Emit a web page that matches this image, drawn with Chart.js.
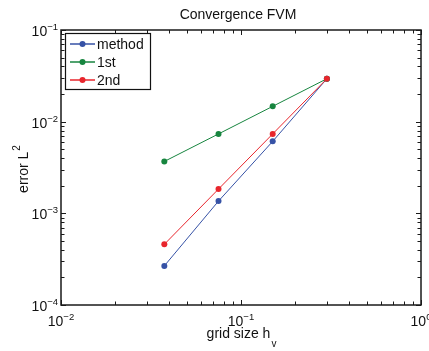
<!DOCTYPE html>
<html>
<head>
<meta charset="utf-8">
<script src="https://cdn.jsdelivr.net/npm/chart.js@4/dist/chart.umd.min.js"></script>
<style>
  body { margin: 0; background: #fff; }
  canvas { display: block; }
</style>
</head>
<body>
<canvas id="chart" width="429" height="351"></canvas>
<script>
// data
let gridSize = [0.0375, 0.075, 0.15, 0.3];
let errMethod = [0.000267, 0.00136, 0.0061, 0.0294];
let errFirst = [0.00368, 0.00735, 0.0147, 0.0294];
let errSecond = [0.000459, 0.00184, 0.00735, 0.0294];
let seriesNames = ["method", "1st", "2nd"];
let seriesColors = ["#3652a6", "#17853f", "#e8262d"];

// axis decades and their labels
let xTicks = [0.01, 0.1, 1];
let xTickExp = ["\u22122", "\u22121", "0"];
let yTicks = [0.0001, 0.001, 0.01, 0.1];
let yTickExp = ["\u22124", "\u22123", "\u22122", "\u22121"];

let chartTitle = "Convergence FVM";
let xTitle = "grid size h";
let xTitleSub = "v";
let yTitle = "error L";
let yTitleSup = "2";

const FONT = "'Liberation Sans', Arial, Helvetica, sans-serif";

function points(ys) {
    return gridSize.map((x, i) => ({ x: x, y: ys[i] }));
}

function drawPow(ctx, x, y, exp, align) {
    ctx.font = "14px " + FONT;
    let w10 = ctx.measureText("10").width;
    ctx.font = "9.5px " + FONT;
    let we = ctx.measureText(exp).width;
    let total = w10 + we;
    let start = align === "center" ? x - total / 2 : x - total;
    ctx.textAlign = "left";
    ctx.textBaseline = "alphabetic";
    ctx.font = "14px " + FONT;
    ctx.fillText("10", start, y);
    ctx.font = "9.5px " + FONT;
    ctx.fillText(exp, start + w10, y - 6);
}

const axesPlugin = {
    id: "matlabAxes",
    afterDraw(chart) {
        let ctx = chart.ctx;
        let a = chart.chartArea;
        let xs = chart.scales.x;
        let ys = chart.scales.y;
        ctx.save();
        ctx.fillStyle = "#111";
        ctx.strokeStyle = "#1a1a1a";

        // ticks inside the box
        ctx.lineWidth = 1;
        ctx.beginPath();
        for (let d = -2; d <= 0; d++) {
            for (let m = 1; m <= 9; m++) {
                let v = m * Math.pow(10, d);
                if (v < xs.min || v > xs.max) continue;
                let px = Math.round(xs.getPixelForValue(v)) + 0.5;
                let len = m === 1 ? 5 : 3.5;
                ctx.moveTo(px, a.bottom); ctx.lineTo(px, a.bottom - len);
                ctx.moveTo(px, a.top); ctx.lineTo(px, a.top + len);
            }
        }
        for (let d = -4; d <= -1; d++) {
            for (let m = 1; m <= 9; m++) {
                let v = m * Math.pow(10, d);
                if (v < ys.min * 0.999 || v > ys.max * 1.001) continue;
                let py = Math.round(ys.getPixelForValue(v)) + 0.5;
                let len = m === 1 ? 5 : 3.5;
                ctx.moveTo(a.left, py); ctx.lineTo(a.left + len, py);
                ctx.moveTo(a.right, py); ctx.lineTo(a.right - len, py);
            }
        }
        ctx.stroke();

        // box
        ctx.lineWidth = 1.5;
        ctx.strokeRect(a.left, a.top, a.right - a.left, a.bottom - a.top);

        // tick labels
        xTicks.forEach((v, i) => {
            drawPow(ctx, xs.getPixelForValue(v), a.bottom + 21, xTickExp[i], "center");
        });
        yTicks.forEach((v, i) => {
            drawPow(ctx, a.left - 3, ys.getPixelForValue(v) + 6, yTickExp[i], "right");
        });

        // title
        let cx = (a.left + a.right) / 2;
        ctx.font = "14px " + FONT;
        ctx.textAlign = "center";
        ctx.textBaseline = "alphabetic";
        ctx.fillText(chartTitle, cx - 3, 19);

        // x title with subscript
        ctx.font = "14px " + FONT;
        let wx = ctx.measureText(xTitle).width;
        ctx.font = "10px " + FONT;
        let ws = ctx.measureText(xTitleSub).width;
        let sx = cx - (wx + ws) / 2;
        ctx.textAlign = "left";
        ctx.font = "14px " + FONT;
        ctx.fillText(xTitle, sx, 338);
        ctx.font = "10px " + FONT;
        ctx.fillText(xTitleSub, sx + wx + 1, 347);

        // y title with superscript
        ctx.save();
        ctx.translate(28, (a.top + a.bottom) / 2 + 2);
        ctx.rotate(-Math.PI / 2);
        ctx.font = "14px " + FONT;
        let wy = ctx.measureText(yTitle).width;
        ctx.font = "10px " + FONT;
        let wsup = ctx.measureText(yTitleSup).width;
        let sy = -(wy + wsup) / 2;
        ctx.font = "14px " + FONT;
        ctx.fillText(yTitle, sy, 0);
        ctx.font = "10px " + FONT;
        ctx.fillText(yTitleSup, sy + wy + 1, -8);
        ctx.restore();

        // legend
        let lx = a.left + 4, ly = a.top + 3, lw = 85, lh = 56;
        ctx.fillStyle = "#fff";
        ctx.fillRect(lx, ly, lw, lh);
        ctx.lineWidth = 1.2;
        ctx.strokeStyle = "#111";
        ctx.strokeRect(lx + 0.5, ly + 0.5, lw, lh);
        seriesNames.forEach((name, i) => {
            let ry = ly + 11 + i * 18;
            ctx.strokeStyle = seriesColors[i];
            ctx.lineWidth = 1.5;
            ctx.beginPath();
            ctx.moveTo(lx + 5, ry); ctx.lineTo(lx + 30, ry);
            ctx.stroke();
            ctx.fillStyle = seriesColors[i];
            ctx.beginPath();
            ctx.arc(lx + 17.5, ry, 3, 0, Math.PI * 2);
            ctx.fill();
            ctx.fillStyle = "#111";
            ctx.font = "14px " + FONT;
            ctx.textAlign = "left";
            ctx.textBaseline = "middle";
            ctx.fillText(name, lx + 32, ry + 1);
        });
        ctx.restore();
    }
};

let allSeries = [errMethod, errFirst, errSecond];

let chart = new Chart(document.getElementById("chart").getContext("2d"), {
    type: "line",
    data: {
        datasets: allSeries.map((s, i) => ({
            label: seriesNames[i],
            data: points(s),
            borderColor: seriesColors[i],
            backgroundColor: seriesColors[i],
            borderWidth: 1,
            pointRadius: 3,
            pointBorderWidth: 0,
            tension: 0,
            order: 3 - i
        }))
    },
    options: {
        responsive: false,
        animation: false,
        layout: { padding: { left: 61, top: 30, right: 8, bottom: 46 } },
        plugins: {
            legend: { display: false },
            tooltip: { enabled: false },
            title: { display: false }
        },
        scales: {
            x: { type: "logarithmic", min: 0.01, max: 1, display: false },
            y: { type: "logarithmic", min: 0.0001, max: 0.1, display: false }
        }
    },
    plugins: [axesPlugin]
});
</script>
</body>
</html>
